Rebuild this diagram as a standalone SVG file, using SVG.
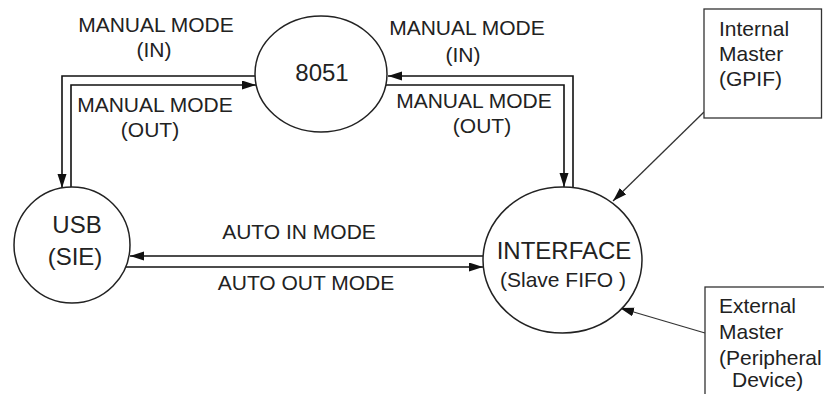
<svg xmlns="http://www.w3.org/2000/svg" width="824" height="394" viewBox="0 0 824 394">
<style>
text{font-family:"Liberation Sans",Arial,sans-serif;fill:#222}
.lbl{font-size:21px}
.nl{font-size:24px}
.node{fill:#fff;stroke:#222;stroke-width:1.5}
.box{fill:#fff;stroke:#333;stroke-width:1.3}
.c{fill:none;stroke:#111;stroke-width:1.6}
.t{fill:none;stroke:#333;stroke-width:1.3}
</style>
<defs>
<marker id="ah" markerUnits="userSpaceOnUse" markerWidth="15" markerHeight="10" refX="14" refY="4.5" orient="auto">
<path d="M0,0 L14,4.5 L0,9 z" fill="#111"/>
</marker>
</defs>
<g id="connectors">
<polyline class="c" points="255,76 62,76 62,188" marker-end="url(#ah)"/>
<polyline class="c" points="71,188 71,85 256,85" marker-end="url(#ah)"/>
<polyline class="c" points="573,188 573,76 388,76" marker-end="url(#ah)"/>
<polyline class="c" points="386,85 564,85 564,187" marker-end="url(#ah)"/>
<line class="c" x1="483" y1="256" x2="130" y2="256" marker-end="url(#ah)"/>
<line class="c" x1="126" y1="267" x2="483" y2="267" marker-end="url(#ah)"/>
<line class="t" x1="704" y1="112" x2="613" y2="201" marker-end="url(#ah)"/>
<line class="t" x1="705" y1="333" x2="620" y2="308" marker-end="url(#ah)"/>
<text class="lbl" x="156" y="32" text-anchor="middle">MANUAL MODE</text>
<text class="lbl" x="154" y="57" text-anchor="middle">(IN)</text>
<text class="lbl" x="155" y="112" text-anchor="middle">MANUAL MODE</text>
<text class="lbl" x="150" y="137" text-anchor="middle">(OUT)</text>
<text class="lbl" x="467" y="35" text-anchor="middle">MANUAL MODE</text>
<text class="lbl" x="463" y="62" text-anchor="middle">(IN)</text>
<text class="lbl" x="474" y="108" text-anchor="middle">MANUAL MODE</text>
<text class="lbl" x="482" y="133" text-anchor="middle">(OUT)</text>
<text class="lbl" x="299" y="239" text-anchor="middle">AUTO IN MODE</text>
<text class="lbl" x="306" y="290" text-anchor="middle">AUTO OUT MODE</text>
</g>
<g id="n8051">
<ellipse class="node" cx="321" cy="74" rx="66" ry="58"/>
<text class="nl" x="322" y="81" text-anchor="middle">8051</text>
</g>
<g id="usb">
<circle class="node" cx="72" cy="245" r="58"/>
<text class="nl" x="77" y="233" text-anchor="middle">USB</text>
<text class="nl" x="75" y="265" text-anchor="middle">(SIE)</text>
</g>
<g id="interface">
<ellipse class="node" cx="562.5" cy="260" rx="79.5" ry="73"/>
<text class="nl" x="564" y="259" text-anchor="middle">INTERFACE</text>
<text class="lbl" x="563" y="287" text-anchor="middle">(Slave FIFO )</text>
</g>
<g id="internal">
<rect class="box" x="704" y="9" width="117.5" height="109"/>
<text class="lbl" x="719" y="36">Internal</text>
<text class="lbl" x="719" y="61">Master</text>
<text class="lbl" x="719" y="86">(GPIF)</text>
</g>
<g id="external">
<rect class="box" x="705" y="287" width="130" height="120"/>
<text class="lbl" x="719" y="313">External</text>
<text class="lbl" x="719" y="339">Master</text>
<text class="lbl" x="719" y="365">(Peripheral</text>
<text class="lbl" x="732" y="387">Device)</text>
</g>
</svg>
